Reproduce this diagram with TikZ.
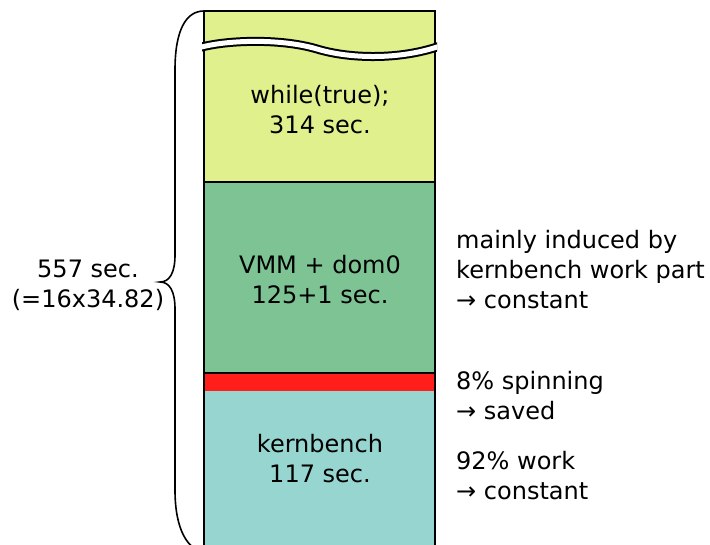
\documentclass[tikz,border=0pt]{standalone}
\usepackage{fontspec}
\setmainfont{DejaVu Sans}
\usepackage{tikz}
\usetikzlibrary{positioning}

\definecolor{loopyellow}{RGB}{224,240,140}
\definecolor{vmmgreen}{RGB}{125,195,147}
\definecolor{spinred}{RGB}{255,30,25}
\definecolor{kbcyan}{RGB}{151,214,208}

\begin{document}
\begin{tikzpicture}[x=1pt,y=-1pt]
    \tikzset{seg/.style = {draw=black,line width=1.6pt}}
    \tikzset{lbl/.style = {draw=none,inner sep=0pt,align=center,font=\fontsize{24}{30}\selectfont}}
    \tikzset{note/.style = {draw=none,inner sep=0pt,align=left,anchor=west,font=\fontsize{24}{30}\selectfont}}

    \useasboundingbox (0,0) rectangle (710,545);

    % segments

    \fill[kbcyan] (204,391) rectangle (435,560);
    \fill[spinred] (204,373) rectangle (435,391);
    \fill[vmmgreen] (204,182) rectangle (435,373);
    \fill[loopyellow] (204,11) rectangle (435,182);
    \draw[seg] (204,560) -- (204,11) -- (435,11) -- (435,560);
    \draw[seg] (204,182) -- (435,182);
    \draw[seg] (204,373) -- (435,373);

    % break
    \begin{scope}
    \clip (202,0) rectangle (437,100);
    \draw[line width=9pt,black] (198,48) .. controls (225,40) and (280,38) .. (317,49) .. controls (350,59) and (400,60) .. (440,46);
    \draw[line width=5pt,white] (198,48) .. controls (225,40) and (280,38) .. (317,49) .. controls (350,59) and (400,60) .. (440,46);
    \end{scope}

    % labels

    \node[lbl] (loop) at (320,110) {while(true);\\314 sec.};
    \node[lbl] (vmm) at (320,280) {VMM + dom0\\125+1 sec.};
    \node[lbl] (kb) at (320,459) {kernbench\\117 sec.};

    \node[note] (vmmnote) at (456,270) {mainly induced by\\kernbench work part\\→ constant};
    \node[note] (spinnote) at (456,396) {8\% spinning\\→ saved};
    \node[note] (worknote) at (456,476) {92\% work\\→ constant};

    \node[lbl] (total) at (88,285) {557 sec.\\(=16x34.82)};

    % brace
    \draw[line width=1.6pt] (204,11) .. controls (186,11) and (175,30) .. (175,70) -- (175,255)
        .. controls (175,272) and (170,282) .. (160,282)
        .. controls (170,282) and (175,292) .. (175,309) -- (175,490)
        .. controls (175,530) and (188,550) .. (204,552);
\end{tikzpicture}
\end{document}
